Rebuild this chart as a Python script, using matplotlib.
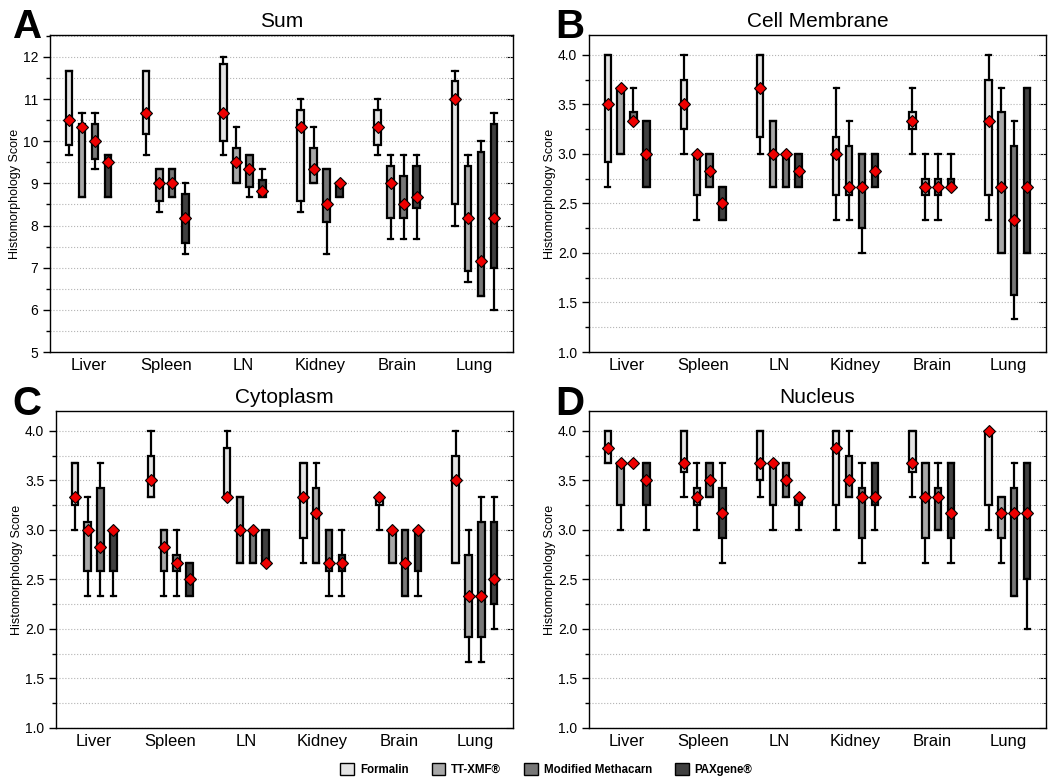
import numpy as np
import matplotlib
matplotlib.use("Agg")
import matplotlib.pyplot as plt
from matplotlib.patches import Patch
from matplotlib.ticker import MultipleLocator

plt.rcParams['font.family'] = ['Liberation Sans', 'DejaVu Sans']

organs = ['Liver', 'Spleen', 'LN', 'Kidney', 'Brain', 'Lung']
fixatives = ['Formalin', 'TT-XMF®', 'Modified Methacarn', 'PAXgene®']
colors = ['#e4e4e4', '#a8a8a8', '#777777', '#404040']

# rows: organs, columns: fixatives
sum_med = [[10.5, 10.33, 10.0, 9.5], [10.67, 9.0, 9.0, 8.17], [10.67, 9.5, 9.33, 8.83],
           [10.33, 9.33, 8.5, 9.0], [10.33, 9.0, 8.5, 8.67], [11.0, 8.17, 7.17, 8.17]]
sum_q1 = [[9.92, 8.67, 9.58, 8.67], [10.17, 8.58, 8.67, 7.58], [10.0, 9.0, 8.92, 8.67],
          [8.58, 9.0, 8.08, 8.67], [9.92, 8.17, 8.17, 8.42], [8.5, 6.92, 6.33, 7.0]]
sum_q3 = [[11.67, 10.42, 10.42, 9.67], [11.67, 9.33, 9.33, 8.75], [11.83, 9.83, 9.67, 9.08],
          [10.75, 9.83, 9.33, 9.0], [10.75, 9.42, 9.17, 9.42], [11.42, 9.42, 9.75, 10.42]]
sum_lo = [[9.67, 8.67, 9.33, 8.67], [9.67, 8.33, 8.67, 7.33], [9.67, 9.0, 8.67, 8.67],
          [8.33, 9.0, 7.33, 8.67], [9.67, 7.67, 7.67, 7.67], [8.0, 6.67, 6.33, 6.0]]
sum_hi = [[11.67, 10.67, 10.67, 9.67], [11.67, 9.33, 9.33, 9.0], [12.0, 10.33, 9.67, 9.33],
          [11.0, 10.33, 9.33, 9.0], [11.0, 9.67, 9.67, 9.67], [11.67, 9.67, 10.0, 10.67]]

mem_med = [[3.5, 3.67, 3.33, 3.0], [3.5, 3.0, 2.83, 2.5], [3.67, 3.0, 3.0, 2.83],
           [3.0, 2.67, 2.67, 2.83], [3.33, 2.67, 2.67, 2.67], [3.33, 2.67, 2.33, 2.67]]
mem_q1 = [[2.92, 3.0, 3.33, 2.67], [3.25, 2.58, 2.67, 2.33], [3.17, 2.67, 2.67, 2.67],
          [2.58, 2.58, 2.25, 2.67], [3.25, 2.58, 2.58, 2.67], [2.58, 2.0, 1.58, 2.0]]
mem_q3 = [[4.0, 3.67, 3.42, 3.33], [3.75, 3.0, 3.0, 2.67], [4.0, 3.33, 3.0, 3.0],
          [3.17, 3.08, 3.0, 3.0], [3.42, 2.75, 2.75, 2.75], [3.75, 3.42, 3.08, 3.67]]
mem_lo = [[2.67, 3.0, 3.33, 2.67], [3.0, 2.33, 2.67, 2.33], [3.0, 2.67, 2.67, 2.67],
          [2.33, 2.33, 2.0, 2.67], [3.0, 2.33, 2.33, 2.67], [2.33, 2.0, 1.33, 2.0]]
mem_hi = [[4.0, 3.67, 3.67, 3.33], [4.0, 3.0, 3.0, 2.67], [4.0, 3.33, 3.0, 3.0],
          [3.67, 3.33, 3.0, 3.0], [3.67, 3.0, 3.0, 3.0], [4.0, 3.67, 3.33, 3.67]]

cyt_med = [[3.33, 3.0, 2.83, 3.0], [3.5, 2.83, 2.67, 2.5], [3.33, 3.0, 3.0, 2.67],
           [3.33, 3.17, 2.67, 2.67], [3.33, 3.0, 2.67, 3.0], [3.5, 2.33, 2.33, 2.5]]
cyt_q1 = [[3.25, 2.58, 2.58, 2.58], [3.33, 2.58, 2.58, 2.33], [3.33, 2.67, 2.67, 2.67],
          [2.92, 2.67, 2.58, 2.58], [3.25, 2.67, 2.33, 2.58], [2.67, 1.92, 1.92, 2.25]]
cyt_q3 = [[3.67, 3.08, 3.42, 3.0], [3.75, 3.0, 2.75, 2.67], [3.83, 3.33, 3.0, 3.0],
          [3.67, 3.42, 3.0, 2.75], [3.33, 3.0, 3.0, 3.0], [3.75, 2.75, 3.08, 3.08]]
cyt_lo = [[3.0, 2.33, 2.33, 2.33], [3.33, 2.33, 2.33, 2.33], [3.33, 2.67, 2.67, 2.67],
          [2.67, 2.67, 2.33, 2.33], [3.0, 2.67, 2.33, 2.33], [2.67, 1.67, 1.67, 2.0]]
cyt_hi = [[3.67, 3.33, 3.67, 3.0], [4.0, 3.0, 3.0, 2.67], [4.0, 3.33, 3.0, 3.0],
          [3.67, 3.67, 3.0, 3.0], [3.33, 3.0, 3.0, 3.0], [4.0, 3.0, 3.33, 3.33]]

nuc_med = [[3.83, 3.67, 3.67, 3.5], [3.67, 3.33, 3.5, 3.17], [3.67, 3.67, 3.5, 3.33],
           [3.83, 3.5, 3.33, 3.33], [3.67, 3.33, 3.33, 3.17], [4.0, 3.17, 3.17, 3.17]]
nuc_q1 = [[3.67, 3.25, 3.67, 3.25], [3.58, 3.25, 3.33, 2.92], [3.5, 3.25, 3.33, 3.25],
          [3.25, 3.33, 2.92, 3.25], [3.58, 2.92, 3.0, 2.92], [3.25, 2.92, 2.33, 2.5]]
nuc_q3 = [[4.0, 3.67, 3.67, 3.67], [4.0, 3.42, 3.67, 3.42], [4.0, 3.67, 3.67, 3.33],
          [4.0, 3.75, 3.42, 3.67], [4.0, 3.67, 3.42, 3.67], [4.0, 3.33, 3.42, 3.67]]
nuc_lo = [[3.67, 3.0, 3.67, 3.0], [3.33, 3.0, 3.33, 2.67], [3.33, 3.0, 3.33, 3.0],
          [3.0, 3.33, 2.67, 3.0], [3.33, 2.67, 3.0, 2.67], [3.0, 2.67, 2.33, 2.0]]
nuc_hi = [[4.0, 3.67, 3.67, 3.67], [4.0, 3.67, 3.67, 3.67], [4.0, 3.67, 3.67, 3.33],
          [4.0, 4.0, 3.67, 3.67], [4.0, 3.67, 3.67, 3.67], [4.0, 3.33, 3.67, 3.67]]

panels = [
    ('A', 'Sum', sum_med, sum_q1, sum_q3, sum_lo, sum_hi, (5, 12.52), 1, 0.5, '%d'),
    ('B', 'Cell Membrane', mem_med, mem_q1, mem_q3, mem_lo, mem_hi, (1, 4.2), 0.5, 0.25, '%.1f'),
    ('C', 'Cytoplasm', cyt_med, cyt_q1, cyt_q3, cyt_lo, cyt_hi, (1, 4.2), 0.5, 0.25, '%.1f'),
    ('D', 'Nucleus', nuc_med, nuc_q1, nuc_q3, nuc_lo, nuc_hi, (1, 4.2), 0.5, 0.25, '%.1f'),
]
rects = [[0.0471, 0.5487, 0.4364, 0.4064], [0.5551, 0.5487, 0.4307, 0.4064],
         [0.0528, 0.0667, 0.4307, 0.4064], [0.5551, 0.0667, 0.4307, 0.4064]]
letter_pos = [(0.012, 0.99), (0.523, 0.99), (0.012, 0.507), (0.523, 0.507)]

offsets = [-0.253, -0.084, 0.084, 0.253]
width = 0.085

fig = plt.figure(figsize=(10.61, 7.8), dpi=100)

for (letter, title, med, q1, q3, lo, hi, ylim, major, minor, fmt), rect, lp in zip(panels, rects, letter_pos):
    ax = fig.add_axes(rect)
    ax.set_ylim(*ylim)
    ax.set_xlim(0.5, 6.5)
    ax.yaxis.set_major_locator(MultipleLocator(major))
    ax.yaxis.set_minor_locator(MultipleLocator(minor))
    ax.yaxis.set_major_formatter(matplotlib.ticker.FormatStrFormatter(fmt))
    ax.grid(axis='y', which='both', color='#b4b4b4', linestyle=':', linewidth=0.8)
    ax.set_axisbelow(True)

    for j in range(4):
        stats = []
        pos = []
        for i in range(6):
            stats.append(dict(med=med[i][j], q1=q1[i][j], q3=q3[i][j],
                              whislo=lo[i][j], whishi=hi[i][j], fliers=[]))
            pos.append(i + 1 + offsets[j])
        ax.bxp(stats, positions=pos, widths=width, patch_artist=True,
               showfliers=False, manage_ticks=False,
               boxprops=dict(facecolor=colors[j], edgecolor='black', linewidth=1.6),
               whiskerprops=dict(color='black', linewidth=1.6),
               capprops=dict(color='black', linewidth=1.6),
               medianprops=dict(color='black', linewidth=0.8),
               capwidths=width * 0.8)
        ax.plot(pos, [m[j] for m in med], linestyle='none', marker='D', markersize=6.5,
                markerfacecolor='#ee0000', markeredgecolor='black', markeredgewidth=0.8,
                zorder=5)

    ax.set_xticks(range(1, 7))
    ax.set_xticklabels(organs, fontsize=12)
    ax.tick_params(axis='x', length=0, pad=4)
    ax.tick_params(axis='y', which='major', direction='out', length=5, labelsize=10, width=1)
    ax.tick_params(axis='y', which='minor', direction='out', length=3, width=1)
    sec = ax.secondary_yaxis('right')
    sec.yaxis.set_major_locator(MultipleLocator(major))
    sec.yaxis.set_minor_locator(MultipleLocator(minor))
    sec.tick_params(axis='y', which='major', direction='in', length=5, labelright=False)
    sec.tick_params(axis='y', which='minor', direction='in', length=3)
    sec.spines['right'].set_visible(False)
    for sp in ax.spines.values():
        sp.set_linewidth(1.0)
    ax.set_ylabel('Histomorphology Score', fontsize=9, labelpad=1)
    ax.set_title(title, fontsize=15, pad=6)
    fig.text(lp[0], lp[1], letter, fontsize=29, fontweight='bold', ha='left', va='top')

handles = [Patch(facecolor=c, edgecolor='black', linewidth=1) for c in colors]
fig.legend(handles, fixatives, loc='lower center', bbox_to_anchor=(0.515, -0.008), ncol=4,
           frameon=False, prop=dict(size=8.3, weight='bold'), handlelength=1.2,
           handleheight=1.2, columnspacing=2.0, handletextpad=0.5)

fig.savefig('out.png', dpi=100)
